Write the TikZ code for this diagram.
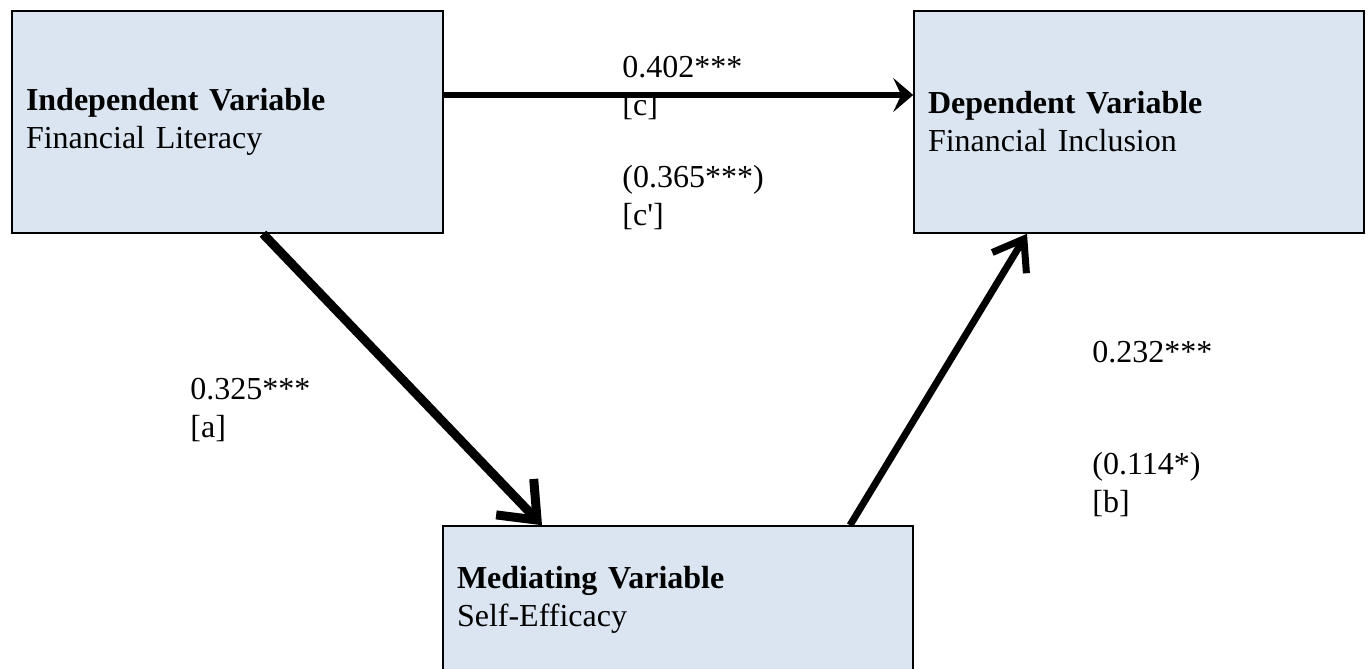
\documentclass[tikz,border=0pt]{standalone}
\usepackage{fontspec}
\setmainfont{Liberation Serif}
\usetikzlibrary{arrows.meta}

\definecolor{boxblue}{HTML}{DBE5F1}

\begin{document}
\begin{tikzpicture}[x=0.5pt, y=-0.5pt,
    % 变量方块样式
    varbox/.style={
        draw,
        line width=0.8pt,
        fill=boxblue,
        inner xsep=7pt,
        inner ysep=0pt,
        align=left,
        font=\fontsize{16pt}{19pt}\selectfont
    },
    % 路径系数文字 (锚点在最后一行基线)
    coef/.style={
        anchor=base west,
        align=left,
        inner sep=0pt,
        font=\fontsize{16pt}{19pt}\selectfont
    }
]
    \fill[white] (0,0) rectangle (1371,669);
    \useasboundingbox (0,0) rectangle (1371,669);
    \clip (0,0) rectangle (1371,669);

    % ================== 三个变量 ==================
    \node[varbox, text width=201.5pt, minimum height=111pt] (indep) at (227.5,122)
        {\textbf{Independent Variable}\\Financial Literacy};
    \node[varbox, text width=211pt, minimum height=111pt] (dep) at (1139,122)
        {\textbf{Dependent Variable}\\Financial Inclusion};
    % 中介变量 (下边缘超出画面)
    \node[varbox, text width=221pt, minimum height=74pt] (med) at (678,600)
        {\textbf{Mediating Variable}\\Self-Efficacy};

    % ================== 路径 ==================
    % c: 直接效应
    \draw[line width=3pt, -{Stealth[length=10pt, width=17pt, inset=4pt]}]
        ([yshift=13.5pt]indep.east) -- ([yshift=13.5pt]dep.west);
    % a: 自变量 -> 中介
    \draw[line width=4.5pt, -{Straight Barb[length=16pt, width=26pt]}]
        ([xshift=17.75pt]indep.south) -- ([xshift=-68pt]med.north);
    % b: 中介 -> 因变量
    \draw[line width=3.5pt, -{Straight Barb[length=14pt, width=20pt]}]
        ([xshift=86pt]med.north) -- ([xshift=-56pt]dep.south);

    % ================== 系数 ==================
    \node[coef] (c_total) at (622,115) {0.402***\\{}[c]};
    \node[coef] (c_direct) at (622,225) {(0.365***)\\{}[c\textquotesingle]};
    \node[coef] (a_coef) at (190,437) {0.325***\\{}[a]};
    \node[coef] (b_total) at (1092,362) {0.232***};
    \node[coef] (b_direct) at (1092,512) {(0.114*)\\{}[b]};

\end{tikzpicture}
\end{document}
